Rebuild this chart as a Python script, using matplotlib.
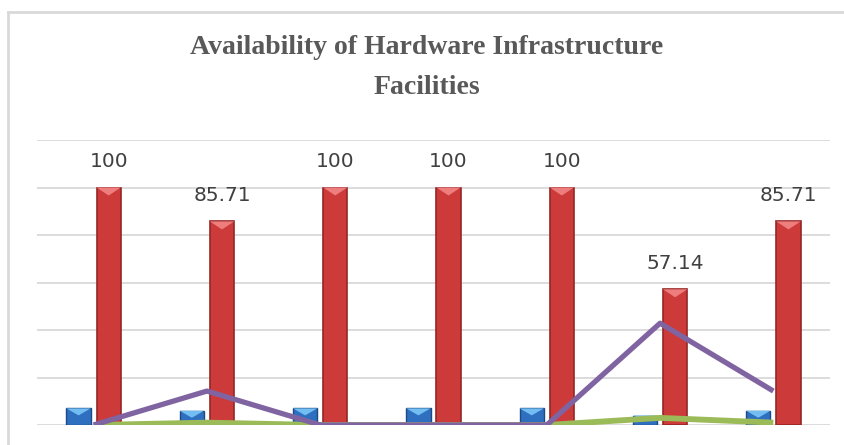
import matplotlib
matplotlib.use("Agg")
import matplotlib.pyplot as plt
from matplotlib.patches import Polygon
from matplotlib.lines import Line2D
import numpy as np

# data (7 facilities, 7 respondents)
categories = ["F1", "F2", "F3", "F4", "F5", "F6", "F7"]
available_count = [7, 6, 7, 7, 7, 4, 6]
available_pct = [100, 85.71, 100, 100, 100, 57.14, 85.71]
not_available_count = [0, 1, 0, 0, 0, 3, 1]
not_available_pct = [0, 14.29, 0, 0, 0, 42.86, 14.29]
pct_labels = ["100", "85.71", "100", "100", "100", "57.14", "85.71"]

TITLE = "Availability of Hardware Infrastructure\nFacilities"
GRID = "#d9d9d9"


def bevel(ax, bars, light, depth_px=8):
    # lighter triangle on the top face to mimic the Office bevel
    p0 = ax.transData.transform((0, 0))
    p1 = ax.transData.transform((0, 1))
    per_unit = p1[1] - p0[1]
    for b in bars:
        x, w, h = b.get_x(), b.get_width(), b.get_height()
        d = min(depth_px / per_unit, h * 0.6)
        tri = Polygon([(x, h), (x + w, h), (x + w / 2, h - d)],
                      closed=True, facecolor=light, edgecolor="none", zorder=b.get_zorder() + 0.1)
        ax.add_patch(tri)


def main() -> None:
    fig = plt.figure(figsize=(8.45, 4.45), dpi=100)
    ax = fig.add_axes([37 / 845, 1 - 425 / 445, (830 - 37) / 845, (425 - 140) / 445])

    x = np.arange(len(categories))
    off = 0.133
    w = 0.215

    blue = ax.bar(x - off, available_count, w, color="#2f6fbf", edgecolor="#1d4a85",
                  linewidth=1.0, zorder=2)
    red = ax.bar(x + off, available_pct, w, color="#cc3a3a", edgecolor="#962626",
                 linewidth=1.2, zorder=2)

    ax.set_xlim(-0.5, len(categories) - 0.5)
    ax.set_ylim(0, 120)

    bevel(ax, blue, "#72bdf2", depth_px=7)
    bevel(ax, red, "#ee7d7d", depth_px=8)

    ax.plot(x, not_available_count, color="#9bbb59", linewidth=4.2,
            solid_capstyle="butt", zorder=4)
    ax.plot(x, not_available_pct, color="#8064a2", linewidth=3.8,
            solid_capstyle="butt", solid_joinstyle="round", zorder=5)

    for b, lab in zip(red, pct_labels):
        ax.annotate(lab, (b.get_x() + b.get_width() / 2, b.get_height()),
                    xytext=(0, 12), textcoords="offset points",
                    ha="center", va="bottom", fontsize=14.5, color="#404040",
                    family="DejaVu Sans")

    ax.set_yticks(np.arange(0, 121, 20))
    ax.set_xticks(x)
    ax.tick_params(left=False, bottom=False, labelleft=False, labelbottom=False)
    ax.grid(True, axis="y", color=GRID, linewidth=1.3, zorder=0)
    ax.set_axisbelow(True)
    for s in ax.spines.values():
        s.set_visible(False)

    # chart-area border (top and left edges visible in the reference)
    fig.add_artist(Line2D([8 / 845, 1.0], [1 - 12 / 445] * 2, color=GRID, linewidth=2.0))
    fig.add_artist(Line2D([8 / 845] * 2, [0.0, 1 - 12 / 445], color=GRID, linewidth=2.0))

    fig.text(427 / 845, 1 - 35 / 445, TITLE, ha="center", va="top",
             fontsize=20, fontweight="bold", family="Liberation Serif",
             color="#595959", linespacing=1.8)

    fig.savefig("out.png", dpi=100)


if __name__ == "__main__":
    main()
